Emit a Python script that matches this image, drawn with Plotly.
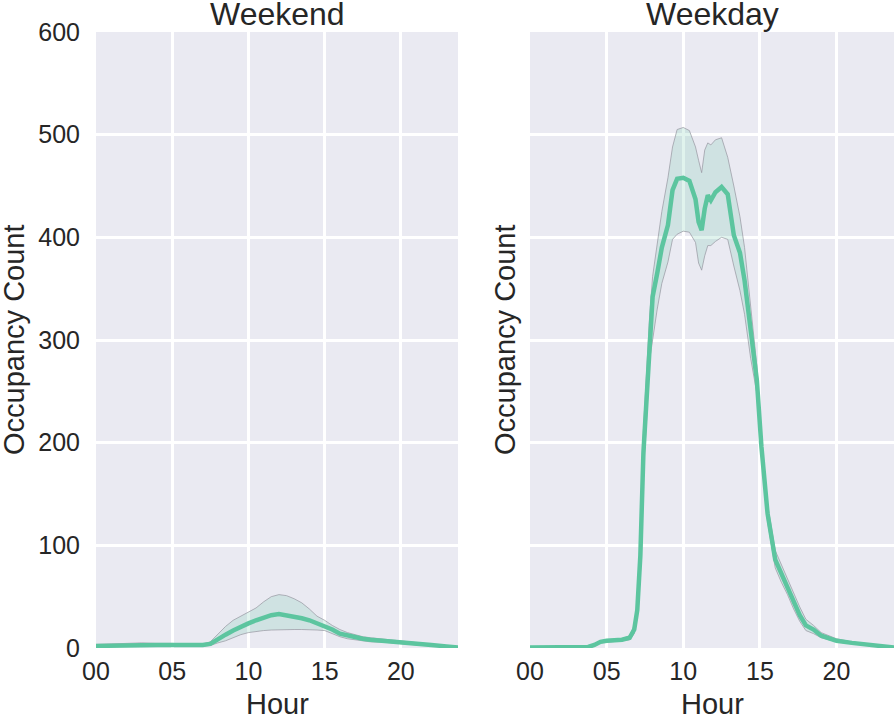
import plotly.graph_objects as go

# ---- data ----
hours_we = [0, 1, 2, 3, 4, 5, 6, 7, 7.5, 8, 8.5, 9, 9.5, 10, 10.5, 11, 11.5, 12, 12.5, 13,
            13.5, 14, 14.5, 15, 15.5, 16, 16.5, 17, 17.5, 18, 19, 20, 21, 22, 23, 23.75]
mean_we = [2, 2.5, 3, 3.5, 3, 3, 2.5, 3, 4, 9, 13, 17, 21, 24, 27, 30, 32, 33, 32, 31,
           29, 27, 24, 22, 18, 14, 12, 10, 9, 8, 7, 5.5, 4, 3, 1.5, 0.5]
hi_we = [3.5, 4, 4.5, 5, 4.5, 4.5, 3.5, 4, 6, 14, 21, 27, 31, 35, 39, 45, 50, 52, 51, 48,
         44, 38, 31, 27, 22, 18, 15, 13, 11, 10, 8.5, 7, 5, 4, 2.5, 1]
lo_we = [1, 1.5, 2, 2, 1.8, 2, 1.8, 2, 2.5, 5, 7, 10, 13, 15, 16, 17, 17.5, 18, 18, 18,
         18, 18, 17.5, 17, 14, 11, 9, 8, 7, 6, 5.5, 4.5, 3, 2.5, 1, 0]

hours_wd = [0, 1, 2, 3, 3.8, 4.2, 4.6, 5, 6, 6.5, 6.8, 7.0, 7.2, 7.4, 7.6, 7.8, 8.0, 8.3, 8.6, 9.0,
            9.3, 9.6, 10.0, 10.4, 10.8, 11.0, 11.2, 11.4, 11.6, 11.8, 12.1, 12.5, 12.9, 13.3, 13.7,
            14.0, 14.4, 14.8, 15.1, 15.5, 16.0, 16.4, 16.8, 17.2, 17.6, 18.0, 18.5, 19, 20, 21,
            22, 23, 23.75]
mean_wd = [0.5, 0.5, 0.5, 0.7, 1, 3, 6, 7, 8, 10, 18, 37, 90, 190, 244, 300, 342, 365, 390, 412,
           446, 457, 458, 455, 437, 415, 407, 428, 441, 436, 444, 449, 442, 402, 385,
           358, 305, 261, 196, 131, 86, 72, 60, 45, 32, 22, 18, 12, 7, 5, 3, 1.5, 0.5]
hi_wd = [1, 1, 1, 1.2, 1.5, 4, 7, 8, 9, 12, 22, 42, 110, 212, 272, 322, 362, 394, 425, 458,
         488, 505, 507, 504, 488, 475, 463, 485, 492, 490, 495, 497, 478, 450, 420,
         390, 332, 275, 205, 140, 95, 81, 68, 53, 40, 28, 22, 15, 9, 6, 4, 2, 1]
lo_wd = [0.2, 0.2, 0.2, 0.3, 0.5, 2, 5, 6, 7, 8, 14, 32, 70, 170, 220, 280, 300, 330, 355, 376,
         398, 403, 406, 405, 395, 375, 368, 382, 392, 392, 396, 400, 398, 372, 348,
         325, 282, 248, 188, 123, 78, 64, 52, 38, 26, 17, 14, 10, 6, 4, 2.5, 1, 0.2]

x_tickvals = [0, 5, 10, 15, 20]
x_ticktext = ["00", "05", "10", "15", "20"]
y_tickvals = [0, 100, 200, 300, 400, 500, 600]
titles = ["Weekend", "Weekday"]
x_title = "Hour"
y_title = "Occupancy Count"

LINE = "#5cc59f"
BAND = "rgba(102,194,165,0.2)"
EDGE = "rgba(150,150,160,0.7)"
TXT = "#262626"
FONT = "Liberation Sans, Arial, Helvetica, sans-serif"

W, H = 894, 717
ML, MR, MT, MB = 96, 0, 32, 69
PW = W - ML - MR

fig = go.Figure()

def add_series(h, m, lo, hi, xa, ya):
    fig.add_trace(go.Scatter(x=h + h[::-1], y=hi + lo[::-1], fill="toself",
                             fillcolor=BAND, line=dict(color=EDGE, width=1),
                             mode="lines", xaxis=xa, yaxis=ya, hoverinfo="skip",
                             showlegend=False))
    fig.add_trace(go.Scatter(x=h, y=m, mode="lines", line=dict(color=LINE, width=4.5),
                             xaxis=xa, yaxis=ya, showlegend=False))

add_series(hours_we, mean_we, lo_we, hi_we, "x", "y")
add_series(hours_wd, mean_wd, lo_wd, hi_wd, "x2", "y2")

xcommon = dict(range=[0, 23.75], tickvals=x_tickvals, ticktext=x_ticktext,
               showgrid=True, gridcolor="white", gridwidth=2.5, zeroline=False,
               ticks="outside", ticklen=1, tickcolor="rgba(0,0,0,0)",
               tickfont=dict(size=25, color=TXT, family=FONT),
               showline=False, automargin=False)
ycommon = dict(range=[0, 600], tickvals=y_tickvals,
               showgrid=True, gridcolor="white", gridwidth=2.5, zeroline=False,
               ticks="outside", tickcolor="rgba(0,0,0,0)",
               tickfont=dict(size=25, color=TXT, family=FONT),
               showline=False, automargin=False)

d1 = [0, (458 - ML) / PW]
d2 = [(530 - ML) / PW, 1.0]

fig.update_layout(
    width=W, height=H,
    margin=dict(l=ML, r=MR, t=MT, b=MB),
    paper_bgcolor="white", plot_bgcolor="#EAEAF2",
    font=dict(family=FONT, color=TXT),
    xaxis=dict(domain=d1, anchor="y", **xcommon),
    xaxis2=dict(domain=d2, anchor="y2", **xcommon),
    yaxis=dict(domain=[0, 1], anchor="x", ticklen=10, **ycommon),
    yaxis2=dict(domain=[0, 1], anchor="x2", matches="y", showticklabels=False, ticklen=2,
                **ycommon),
)

for t, dom, yx in zip(titles, [d1, d2], [-82, -25]):
    cx = (dom[0] + dom[1]) / 2
    # subplot title
    fig.add_annotation(text=t, x=cx, y=1, xref="paper", yref="paper",
                       xanchor="center", yanchor="middle", showarrow=False, yshift=18,
                       font=dict(size=32, color=TXT, family=FONT))
    # x axis title
    fig.add_annotation(text=x_title, x=cx, y=0, xref="paper", yref="paper",
                       xanchor="center", yanchor="middle", showarrow=False, yshift=-56,
                       font=dict(size=29, color=TXT, family=FONT))
    # y axis title
    fig.add_annotation(text=y_title, x=dom[0], y=0.5, xref="paper", yref="paper",
                       xanchor="center", yanchor="middle", showarrow=False, xshift=yx,
                       textangle=-90, font=dict(size=29, color=TXT, family=FONT))

fig.write_html("out.html", config={"displayModeBar": False},
               post_script="document.body.style.margin='0';document.body.style.overflow='hidden';")
